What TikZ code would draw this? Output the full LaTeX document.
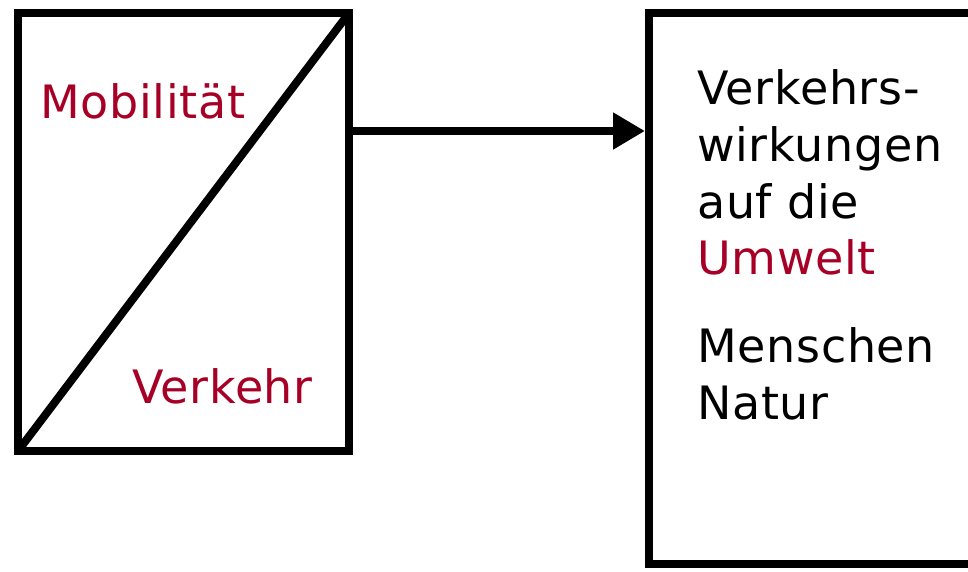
\documentclass[tikz,border=0pt]{standalone}
\usepackage{fontspec}
\newfontfamily\labelfont{DejaVu Sans}[LetterSpace=1.5]
\usetikzlibrary{arrows.meta}
\definecolor{accent}{RGB}{166,0,38}
\begin{document}
\begin{tikzpicture}[x=1pt,y=-1pt,
  frame/.style={draw, rectangle, line width=8pt, outer sep=0pt, inner sep=0pt},
  link/.style={line width=8pt, -{Triangle[length=32pt,width=35pt]}},
  label/.style={anchor=base west, inner sep=0pt, font=\labelfont\fontsize{46}{57}\selectfont},
  hl/.style={text=accent}]
\useasboundingbox (0,0) rectangle (968,571);
\clip (0,0) rectangle (968,571);

% split box: Mobilitaet / Verkehr
\node[frame, minimum width=331pt, minimum height=438pt] (split) at (183.5,232) {};
\draw[line width=8pt] (split.south west) -- (split.north east);
\node[label, hl] (mob) at (40,118) {Mobilität};
\node[label, hl] (verk) at (132,403) {Verkehr};

% effects box, running past the page edge
\node[frame, minimum width=361pt, minimum height=551pt] (effects) at (829.5,288.5) {};

% connector
\draw[link, shorten >=4pt] ([yshift=-118pt]split.north east) -- ([yshift=-118pt]effects.north west);

% text of the effects box
\node[label] (l1) at (697,104) {Verkehrs-};
\node[label] (l2) at (697,161) {wirkungen};
\node[label] (l3) at (697,218) {auf die};
\node[label, hl] (l4) at (697,274) {Umwelt};
\node[label] (l5) at (697,362) {Menschen};
\node[label] (l6) at (697,419) {Natur};
\end{tikzpicture}
\end{document}
